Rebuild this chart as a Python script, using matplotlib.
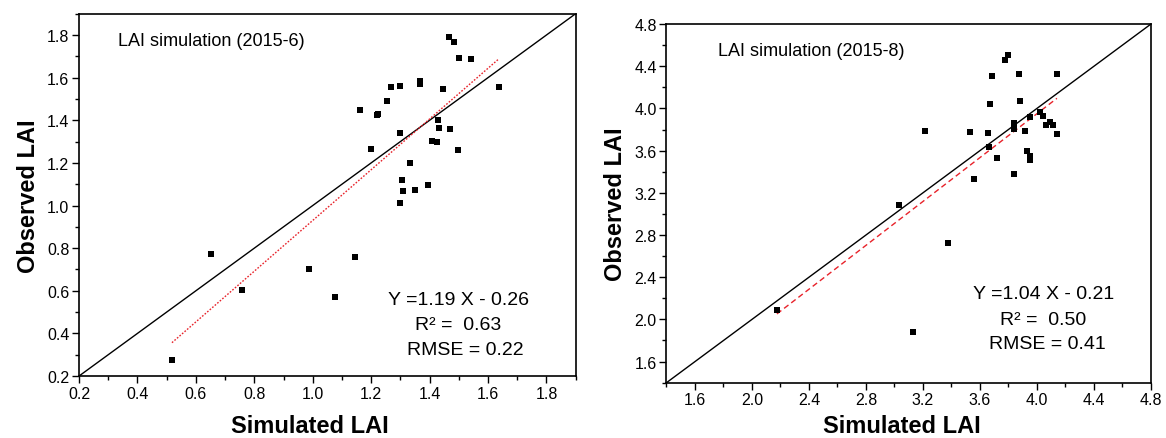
import numpy as np
import matplotlib
matplotlib.use("Agg")
from matplotlib import pyplot as plt
from matplotlib.ticker import MultipleLocator

plt.rcParams['font.family'] = ['Liberation Sans', 'DejaVu Sans']

# 2015-6 simulated / observed LAI
sim_jun = [1.465, 1.485, 1.499, 1.542, 1.638, 1.368, 1.368, 1.445, 1.268, 1.299,
           1.255, 1.161, 1.220, 1.225, 1.429, 1.433, 1.471, 1.299, 1.409, 1.424,
           1.201, 1.496, 1.334, 1.306, 1.310, 1.351, 1.396, 1.299, 0.652, 0.759,
           0.988, 1.075, 1.145, 0.518]
obs_jun = [1.792, 1.768, 1.694, 1.687, 1.555, 1.585, 1.572, 1.546, 1.557, 1.562,
           1.491, 1.449, 1.424, 1.429, 1.403, 1.366, 1.358, 1.342, 1.302, 1.299,
           1.264, 1.260, 1.199, 1.120, 1.067, 1.073, 1.097, 1.014, 0.773, 0.605,
           0.704, 0.572, 0.757, 0.275]

# 2015-8 simulated / observed LAI
sim_aug = [3.799, 3.778, 3.681, 3.875, 3.670, 3.881, 3.211, 3.531, 3.654, 3.836,
           3.836, 3.918, 3.665, 3.717, 3.561, 3.841, 3.032, 3.375, 3.128, 2.175,
           4.14, 3.95, 4.02, 4.04, 4.06, 4.09, 4.11, 4.14, 3.93, 3.95, 3.95]
obs_aug = [4.511, 4.458, 4.303, 4.323, 4.038, 4.068, 3.790, 3.774, 3.768, 3.857,
           3.805, 3.790, 3.638, 3.532, 3.329, 3.382, 3.084, 2.723, 1.879, 2.090,
           4.33, 3.92, 3.97, 3.93, 3.84, 3.87, 3.84, 3.76, 3.60, 3.55, 3.51]

panels = [
    dict(x=sim_jun, y=obs_jun, lim=(0.2, 1.9), step=0.2, slope=1.19, icpt=-0.26,
         r2='0.63', rmse='0.22', title='LAI simulation (2015-6)', fit_ls=(0, (1.2, 1.2)),
         pos=[0.0678, 0.1412, 0.4259, 0.8253], xlab=(0.465, -0.105),
         txt=[(0.078, 0.925), (0.622, 0.2125), (0.676, 0.141), (0.66, 0.0745)]),
    dict(x=sim_aug, y=obs_aug, lim=(1.4, 4.8), step=0.4, slope=1.04, icpt=-0.21,
         r2='0.50', rmse='0.41', title='LAI simulation (2015-8)', fit_ls=(0, (4, 2.5)),
         pos=[0.5716, 0.1260, 0.4155, 0.8170], xlab=(0.486, -0.088),
         txt=[(0.106, 0.925), (0.633, 0.249), (0.688, 0.177), (0.666, 0.108)]),
]

fig = plt.figure(figsize=(11.66, 4.39), dpi=100)
for p in panels:
    ax = fig.add_axes(p['pos'])
    lo, hi = p['lim']
    ax.plot([lo, hi], [lo, hi], color='black', lw=1.0)
    xs = np.array(p['x'])
    fx = np.array([xs.min(), xs.max()])
    ax.plot(fx, p['slope'] * fx + p['icpt'], color='#e8222a', lw=1.0, linestyle=p['fit_ls'])
    ax.plot(p['x'], p['y'], 's', color='black', ms=4, mew=0)
    ax.set_xlim(lo, hi)
    ax.set_ylim(lo, hi)
    ax.xaxis.set_major_locator(MultipleLocator(p['step']))
    ax.yaxis.set_major_locator(MultipleLocator(p['step']))
    ax.xaxis.set_minor_locator(MultipleLocator(p['step'] / 2))
    ax.yaxis.set_minor_locator(MultipleLocator(p['step'] / 2))
    ax.tick_params(which='major', direction='out', length=5, width=1.0, labelsize=11.5, pad=2)
    ax.tick_params(which='minor', direction='out', length=3, width=1.0)
    for s in ax.spines.values():
        s.set_linewidth(1.2)
    ax.set_xlabel('Simulated LAI', fontsize=17, fontweight='bold')
    ax.xaxis.set_label_coords(*p['xlab'])
    ax.set_ylabel('Observed LAI', fontsize=17, fontweight='bold', labelpad=5)
    t = p['txt']
    ax.text(t[0][0], t[0][1], p['title'], transform=ax.transAxes, fontsize=13, va='center')
    ax.text(t[1][0], t[1][1], 'Y =%.2f X - %.2f' % (p['slope'], -p['icpt']),
            transform=ax.transAxes, fontsize=14, va='center')
    ax.text(t[2][0], t[2][1], 'R\u00b2 =  ' + p['r2'], transform=ax.transAxes, fontsize=14, va='center')
    ax.text(t[3][0], t[3][1], 'RMSE = ' + p['rmse'], transform=ax.transAxes, fontsize=14, va='center')

fig.savefig('out.png', dpi=100)
